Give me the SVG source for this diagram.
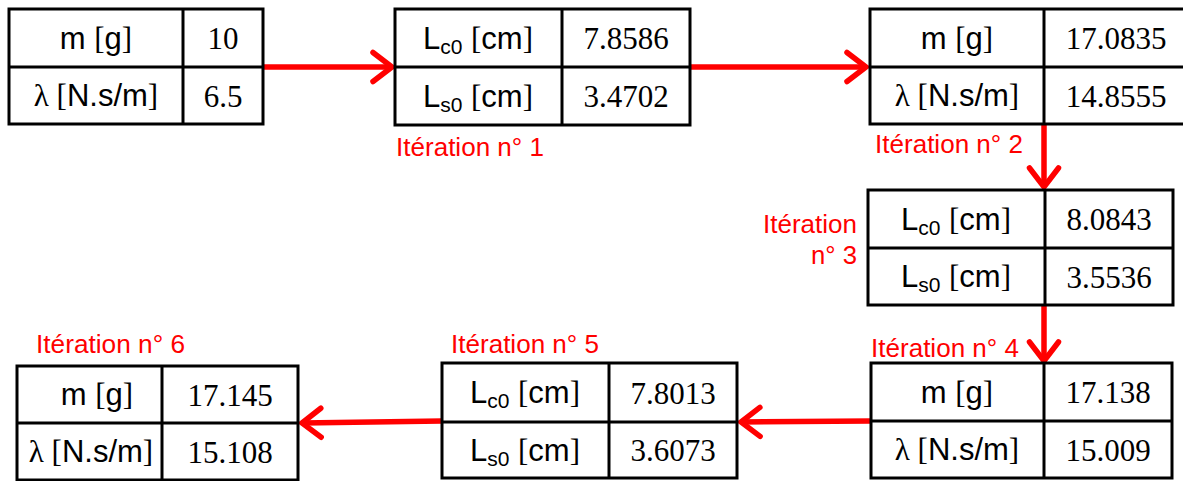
<svg xmlns="http://www.w3.org/2000/svg" width="1183" height="481" viewBox="0 0 1183 481">
<style>
.tb{fill:#fff;stroke:#000;stroke-width:3}
.ln{stroke:#000;stroke-width:3}
.lbl{font-family:"Liberation Sans",Arial,sans-serif;font-size:31px;text-anchor:middle;fill:#000}
.sr{font-family:"Liberation Serif","Times New Roman",serif}
.sub{font-size:21px}
.val{font-family:"Liberation Serif","Times New Roman",serif;font-size:31px;text-anchor:middle;fill:#000}
.it{font-family:"Liberation Sans",Arial,sans-serif;font-size:25px;fill:#ff0000}
.ar{fill:none;stroke:#ff0000;stroke-width:5.5;marker-end:url(#chev)}
</style>
<defs>
<marker id="chev" markerUnits="userSpaceOnUse" viewBox="-26 -20 30 40" refX="0" refY="0" markerWidth="30" markerHeight="40" orient="auto" overflow="visible">
<path d="M-19,-14.5 L0,0 L-19,14.5" fill="none" stroke="#ff0000" stroke-width="5.5" stroke-linecap="round" stroke-linejoin="miter"/>
</marker>
</defs>
<rect width="1183" height="481" fill="#fff"/>

<g id="connectors">
<path class="ar" d="M263,67 L392,67"/>
<path class="ar" d="M690,67 L866,67"/>
<path class="ar" d="M1044,124 L1044,187"/>
<path class="ar" d="M1044,305 L1044,361"/>
<path class="ar" d="M871,421 L741,422"/>
<path class="ar" d="M442,421 L302,423"/>
</g>

<g id="t0">
<rect class="tb" x="9" y="9" width="254" height="115"/>
<line class="ln" x1="183" y1="9" x2="183" y2="124"/>
<line class="ln" x1="9" y1="67" x2="263" y2="67"/>
<text class="lbl" x="96" y="48.5">m <tspan class="sr">[</tspan>g<tspan class="sr">]</tspan></text>
<text class="lbl" x="96" y="106"><tspan class="sr">λ [</tspan>N.s/m<tspan class="sr">]</tspan></text>
<text class="val" x="223" y="49">10</text>
<text class="val" x="223" y="107">6.5</text>
</g>

<g id="t1">
<rect class="tb" x="395" y="9" width="295" height="116"/>
<line class="ln" x1="562" y1="9" x2="562" y2="125"/>
<line class="ln" x1="395" y1="67" x2="690" y2="67"/>
<text class="lbl" x="478" y="48.5">L<tspan class="sub" dy="5">c0</tspan><tspan dy="-5"> </tspan><tspan class="sr">[</tspan>cm<tspan class="sr">]</tspan></text>
<text class="lbl" x="478" y="106.5">L<tspan class="sub" dy="5">s0</tspan><tspan dy="-5"> </tspan><tspan class="sr">[</tspan>cm<tspan class="sr">]</tspan></text>
<text class="val" x="626" y="49">7.8586</text>
<text class="val" x="626" y="107">3.4702</text>
<text class="it" x="396" y="156" textLength="148" lengthAdjust="spacingAndGlyphs">Itération n° 1</text>
</g>

<g id="t2">
<rect class="tb" x="870" y="9" width="320" height="115"/>
<line class="ln" x1="1044" y1="9" x2="1044" y2="124"/>
<line class="ln" x1="870" y1="67" x2="1190" y2="67"/>
<text class="lbl" x="957" y="48.5">m <tspan class="sr">[</tspan>g<tspan class="sr">]</tspan></text>
<text class="lbl" x="957" y="106"><tspan class="sr">λ [</tspan>N.s/m<tspan class="sr">]</tspan></text>
<text class="val" x="1116" y="49">17.0835</text>
<text class="val" x="1116" y="107">14.8555</text>
<text class="it" x="875" y="153" textLength="148" lengthAdjust="spacingAndGlyphs">Itération n° 2</text>
</g>

<g id="t3">
<rect class="tb" x="868" y="190" width="305" height="115"/>
<line class="ln" x1="1045" y1="190" x2="1045" y2="305"/>
<line class="ln" x1="868" y1="248" x2="1173" y2="248"/>
<text class="lbl" x="956" y="229.5">L<tspan class="sub" dy="5">c0</tspan><tspan dy="-5"> </tspan><tspan class="sr">[</tspan>cm<tspan class="sr">]</tspan></text>
<text class="lbl" x="956" y="287">L<tspan class="sub" dy="5">s0</tspan><tspan dy="-5"> </tspan><tspan class="sr">[</tspan>cm<tspan class="sr">]</tspan></text>
<text class="val" x="1109" y="230">8.0843</text>
<text class="val" x="1109" y="287.5">3.5536</text>
<text class="it" x="857" y="233" text-anchor="end" textLength="94" lengthAdjust="spacingAndGlyphs">Itération</text>
<text class="it" x="857" y="264" text-anchor="end" textLength="46" lengthAdjust="spacingAndGlyphs">n° 3</text>
</g>

<g id="t4">
<rect class="tb" x="871" y="363" width="301" height="115"/>
<line class="ln" x1="1044" y1="363" x2="1044" y2="478"/>
<line class="ln" x1="871" y1="421" x2="1172" y2="421"/>
<text class="lbl" x="957" y="402.5">m <tspan class="sr">[</tspan>g<tspan class="sr">]</tspan></text>
<text class="lbl" x="957" y="460"><tspan class="sr">λ [</tspan>N.s/m<tspan class="sr">]</tspan></text>
<text class="val" x="1108" y="403">17.138</text>
<text class="val" x="1108" y="460.5">15.009</text>
<text class="it" x="871" y="357" textLength="148" lengthAdjust="spacingAndGlyphs">Itération n° 4</text>
</g>

<g id="t5">
<rect class="tb" x="442" y="363" width="295" height="115"/>
<line class="ln" x1="609" y1="363" x2="609" y2="478"/>
<line class="ln" x1="442" y1="422" x2="737" y2="422"/>
<text class="lbl" x="525" y="403">L<tspan class="sub" dy="5">c0</tspan><tspan dy="-5"> </tspan><tspan class="sr">[</tspan>cm<tspan class="sr">]</tspan></text>
<text class="lbl" x="525" y="460.5">L<tspan class="sub" dy="5">s0</tspan><tspan dy="-5"> </tspan><tspan class="sr">[</tspan>cm<tspan class="sr">]</tspan></text>
<text class="val" x="673" y="403.5">7.8013</text>
<text class="val" x="673" y="461">3.6073</text>
<text class="it" x="451" y="353" textLength="148" lengthAdjust="spacingAndGlyphs">Itération n° 5</text>
</g>

<g id="t6">
<rect class="tb" x="17" y="366" width="281" height="114"/>
<line class="ln" x1="162" y1="366" x2="162" y2="480"/>
<line class="ln" x1="17" y1="423" x2="298" y2="423"/>
<text class="lbl" x="97" y="405">m <tspan class="sr">[</tspan>g<tspan class="sr">]</tspan></text>
<text class="lbl" x="91" y="462"><tspan class="sr">λ [</tspan>N.s/m<tspan class="sr">]</tspan></text>
<text class="val" x="230" y="405.5">17.145</text>
<text class="val" x="230" y="462.5">15.108</text>
<text class="it" x="36" y="353" textLength="149" lengthAdjust="spacingAndGlyphs">Itération n° 6</text>
</g>
</svg>
